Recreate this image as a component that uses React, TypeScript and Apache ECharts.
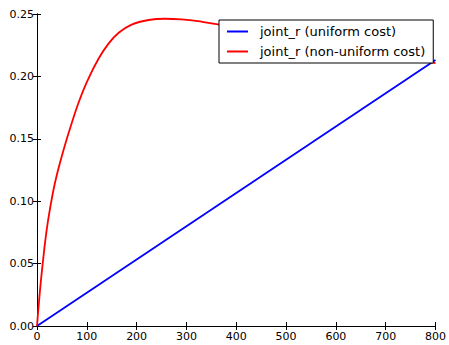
import React, { useEffect, useRef } from "react";
import * as echarts from "echarts";

const xTicks = [0, 100, 200, 300, 400, 500, 600, 700, 800];
const yTicks = [0, 0.05, 0.1, 0.15, 0.2, 0.25];

const uniformX = [0, 800];
const uniformY = [0, 0.2132];

const nonUniformX = [0, 2, 5, 8, 15, 22, 32, 41, 55, 68, 83, 100, 124, 144, 164, 190, 224, 257, 290, 323, 363, 400, 450, 500, 550, 600, 650, 700, 750, 800];
const nonUniformY = [0, 0.01, 0.024, 0.037, 0.063, 0.084, 0.107, 0.123, 0.1435, 0.1605, 0.1785, 0.1955, 0.2145, 0.2265, 0.235, 0.2415, 0.2452, 0.2462, 0.2457, 0.2443, 0.2416, 0.239, 0.2355, 0.232, 0.2285, 0.225, 0.2215, 0.218, 0.2143, 0.2106];

const seriesNames = ["joint_r (uniform cost)", "joint_r (non-uniform cost)"];

const FONT = "DejaVu Sans";

export default function App() {
  const ref = useRef<HTMLDivElement>(null);
  useEffect(() => {
    if (!ref.current) return;
    const chart = echarts.init(ref.current, null, { renderer: "svg" });
    const axisLine = { show: true, lineStyle: { color: "#000", width: 1 } };
    const tick = { show: true, inside: true, length: 4, lineStyle: { color: "#000", width: 1 } };
    chart.setOption({
      animation: false,
      backgroundColor: "#fff",
      grid: { left: 37, right: 10, top: 14, bottom: 19, containLabel: false },
      legend: {
        orient: "vertical",
        left: 219,
        top: 20,
        padding: [5, 8, 5, 8],
        itemGap: 7,
        itemWidth: 21,
        itemHeight: 2,
        icon: "rect",
        borderColor: "#000",
        borderWidth: 1,
        borderRadius: 0,
        backgroundColor: "#fff",
        textStyle: { fontFamily: FONT, fontSize: 13, color: "#000", lineHeight: 13, padding: [0, 0, 0, 7] },
        data: seriesNames,
      },
      xAxis: [
        {
          type: "value",
          min: 0,
          max: 800,
          interval: 100,
          position: "bottom",
          axisLine,
          axisTick: tick,
          splitLine: { show: false },
          axisLabel: { fontFamily: FONT, fontSize: 11, color: "#000", margin: 5, customValues: xTicks },
        },
        {
          type: "value",
          min: 0,
          max: 800,
          interval: 100,
          position: "top",
          axisLine,
          axisTick: tick,
          splitLine: { show: false },
          axisLabel: { show: false },
        },
      ],
      yAxis: [
        {
          type: "value",
          min: 0,
          max: 0.25,
          interval: 0.05,
          position: "left",
          axisLine,
          axisTick: tick,
          splitLine: { show: false },
          axisLabel: {
            fontFamily: FONT,
            fontSize: 11,
            color: "#000",
            margin: 3,
            formatter: (v: number) => v.toFixed(2),
          },
        },
        {
          type: "value",
          min: 0,
          max: 0.25,
          interval: 0.05,
          position: "right",
          axisLine,
          axisTick: tick,
          splitLine: { show: false },
          axisLabel: { show: false },
        },
      ],
      series: [
        {
          name: seriesNames[0],
          type: "line",
          symbol: "none",
          color: "#0000ff",
          lineStyle: { color: "#0000ff", width: 1.8 },
          data: uniformX.map((x, i) => [x, uniformY[i]]),
        },
        {
          name: seriesNames[1],
          type: "line",
          symbol: "none",
          smooth: 0.2,
          color: "#ff0000",
          lineStyle: { color: "#ff0000", width: 1.8 },
          data: nonUniformX.map((x, i) => [x, nonUniformY[i]]),
        },
      ],
    });
    void yTicks;
    return () => chart.dispose();
  }, []);
  return (
    <div
      ref={ref}
      style={{ position: "fixed", left: 0, top: 0, width: 449, height: 345 }}
    />
  );
}
